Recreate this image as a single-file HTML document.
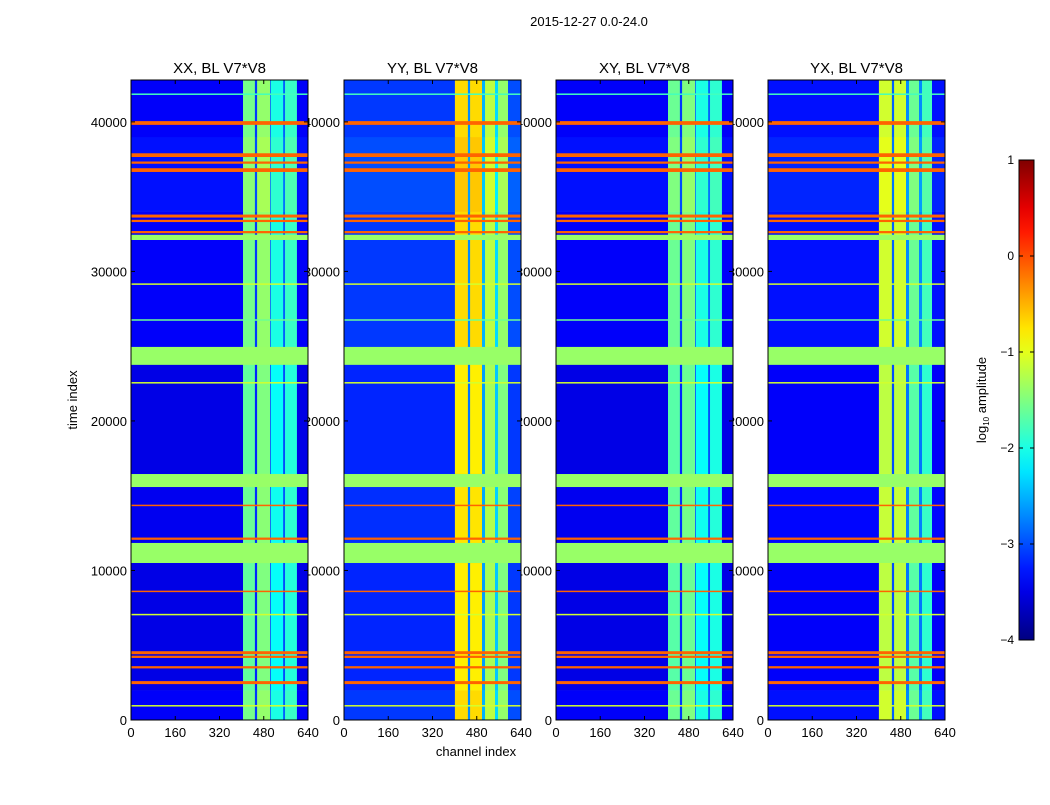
<!DOCTYPE html>
<html><head><meta charset="utf-8"><style>
body{margin:0;background:#fff;}
svg text{font-family:"Liberation Sans",sans-serif;fill:#000;}
</style></head><body>
<svg id="fig" width="1050" height="800" xmlns="http://www.w3.org/2000/svg">
<rect width="1050" height="800" fill="#fff"/>
<text x="589" y="26" font-size="13" text-anchor="middle">2015-12-27 0.0-24.0</text>
<text x="476" y="756" font-size="13" text-anchor="middle">channel index</text>
<text x="77" y="400" font-size="13" text-anchor="middle" transform="rotate(-90 77 400)">time index</text>
<g id="panels"></g>
<g id="cbar"></g>
</svg>
<script>
const panelTitles = ["XX, BL V7*V8","YY, BL V7*V8","XY, BL V7*V8","YX, BL V7*V8"];
const xTicks = [0,160,320,480,640];
const yTicks = [0,10000,20000,30000,40000];
const cbarTicks = [1,0,-1,-2,-3,-4];
// channel bands: [startChan, endChan, log10 amplitude]
const bandsXX = [[0,405,-3.5],[405,448,-1.65],[448,456,-3.2],[456,503,-1.5],[503,506,-3.0],[506,550,-2.1],[550,557,-3.0],[557,600,-1.95],[600,640,-3.5]];
const bandsYY = [[0,401,-3.2],[401,448,-0.8],[448,456,-2.8],[456,499,-0.8],[499,510,-2.6],[510,546,-1.3],[546,557,-2.4],[557,593,-1.5],[593,640,-3.1]];
const bandsXY = [[0,405,-3.5],[405,448,-1.7],[448,456,-3.2],[456,503,-1.6],[503,506,-3.0],[506,550,-2.1],[550,557,-3.0],[557,600,-2.0],[600,640,-3.5]];
const bandsYX = [[0,401,-3.4],[401,448,-1.2],[448,456,-3.0],[456,499,-1.2],[499,510,-2.8],[510,546,-1.7],[546,557,-2.8],[557,593,-1.9],[593,640,-3.4]];
const panelBands = [bandsXX,bandsYY,bandsXY,bandsYX];
// time segments: [startTime, endTime, offset]
const timeSegs = [[0,2000,0.1],[2000,10500,0],[10500,16500,0.05],[16500,24000,0],[24000,34000,0.1],[34000,39000,0.2],[39000,43000,0.1]];
// flagged rows: [t0, t1, value]
const flagRows = [[23750,24950,-1.38],[15580,16450,-1.38],[10500,11840,-1.38],[32100,32450,-1.38],
 [39800,40050,-0.11],[37650,37900,-0.11],[37200,37350,-0.11],[36650,36900,-0.11],[33600,33800,-0.11],[33300,33450,-0.11],[32550,32700,-0.11],
 [14300,14400,-0.11],[12050,12200,-0.11],[8550,8650,-0.11],[4400,4600,-0.11],[4150,4300,-0.11],[3450,3600,-0.11],[2400,2600,-0.11],
 [29100,29200,-1.1],[22500,22600,-1.1],[26700,26800,-1.6],[7000,7100,-1.1],[900,1000,-1.1],[41800,41900,-1.8]];
const timeMax = 42800;

function jet(v){
  let t=(v+4)/5; t=Math.max(0,Math.min(1,t));
  const c=x=>Math.round(255*Math.max(0,Math.min(1,x)));
  return `rgb(${c(1.5-Math.abs(4*t-3))},${c(1.5-Math.abs(4*t-2))},${c(1.5-Math.abs(4*t-1))})`;
}
const NS="http://www.w3.org/2000/svg";
function mk(tag,attrs,parent){const e=document.createElementNS(NS,tag);for(const k in attrs)e.setAttribute(k,attrs[k]);parent.appendChild(e);return e;}
const panelX=[131,344,556,768], pw=177, pTop=80, pBottom=720;
const yScale=t=>pBottom-(t/timeMax)*(pBottom-pTop);
const g=document.getElementById('panels');
const labelLayer=mk('g',{},g), imgLayer=mk('g',{},g);
panelX.forEach((x0,p)=>{
  const xs=c=>x0+c/640*pw;
  yTicks.forEach(t=>{
    const tx=mk('text',{x:x0-4,y:yScale(t)+5,'font-size':13,'text-anchor':'end'},labelLayer);
    
    
    tx.textContent=t;
  });
  const pg=mk('g',{},imgLayer);
  
  
  timeSegs.forEach(s=>{
    panelBands[p].forEach(b=>{
      const r=mk('rect',{x:xs(b[0]),y:yScale(Math.min(s[1],timeMax)),width:xs(b[1])-xs(b[0])+0.3,height:yScale(s[0])-yScale(Math.min(s[1],timeMax))+0.3,fill:jet(b[2]+s[2])},pg);
      
      
    });
  });
  flagRows.forEach(f=>{
    const r=mk('rect',{x:x0,y:yScale(f[1]),width:pw,height:Math.max(1.5,yScale(f[0])-yScale(f[1])),fill:jet(f[2])},pg);
    
    
  });
  const fr=mk('rect',{x:x0,y:pTop,width:pw,height:pBottom-pTop,fill:'none',stroke:'#000','stroke-width':1},pg);
  
  
  yTicks.forEach(t=>{mk('line',{x1:x0,x2:x0+4,y1:yScale(t),y2:yScale(t),stroke:'#000'},pg);mk('line',{x1:x0+pw,x2:x0+pw-4,y1:yScale(t),y2:yScale(t),stroke:'#000'},pg);});
  xTicks.forEach(c=>{
    mk('line',{x1:xs(c),x2:xs(c),y1:pBottom,y2:pBottom-4,stroke:'#000'},pg);
    mk('line',{x1:xs(c),x2:xs(c),y1:pTop,y2:pTop+4,stroke:'#000'},pg);
    const tx=mk('text',{x:xs(c),y:737,'font-size':13,'text-anchor':'middle'},pg);
    
    
    tx.textContent=c;
  });
  const tt=mk('text',{x:x0+pw/2,y:73,'font-size':15,'text-anchor':'middle'},pg);
  
  
  tt.textContent=panelTitles[p];
});
const cb=document.getElementById('cbar');


const cx=1019,cw=15,ct=160,cbt=640;
const cy=v=>cbt-(v+4)/5*(cbt-ct);
const defs=mk('defs',{},cb);
const lg=mk('linearGradient',{id:'jetg',x1:0,y1:1,x2:0,y2:0},defs);
for(let i=0;i<=20;i++){mk('stop',{offset:i/20,'stop-color':jet(-4+5*i/20)},lg);}
mk('rect',{x:cx,y:ct,width:cw,height:cbt-ct,fill:'url(#jetg)',stroke:'#000'},cb);
cbarTicks.forEach(v=>{
  mk('line',{x1:cx,x2:cx+4,y1:cy(v),y2:cy(v),stroke:'#000'},cb);
  mk('line',{x1:cx+cw,x2:cx+cw-4,y1:cy(v),y2:cy(v),stroke:'#000'},cb);
  const tx=mk('text',{x:cx-5,y:cy(v)+4,'font-size':12,'text-anchor':'end'},cb);
  
  
  tx.textContent=(v<0?'\u2212'+(-v):v);
});
const cl=mk('text',{x:986,y:400,'font-size':13,'text-anchor':'middle',transform:'rotate(-90 986 400)'},cb);


const t1=mk('tspan',{},cl); t1.textContent='log';
const t2=mk('tspan',{'font-size':8,dy:3},cl); t2.textContent='10';
const t3=mk('tspan',{dy:-3},cl); t3.textContent=' amplitude';
</script>
</body></html>
